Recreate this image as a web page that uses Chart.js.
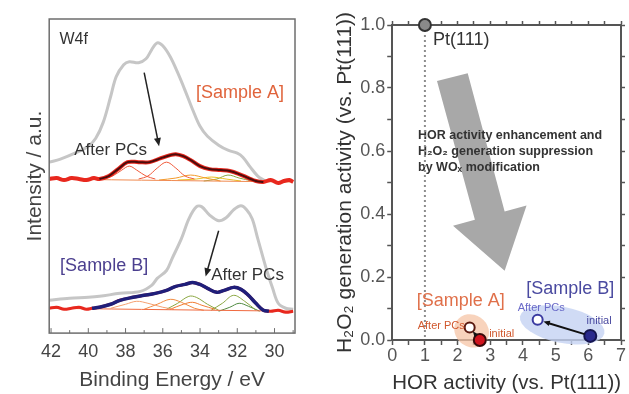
<!DOCTYPE html>
<html>
<head>
<meta charset="utf-8">
<script src="https://cdn.jsdelivr.net/npm/chart.js@4.4.1/dist/chart.umd.min.js"></script>
<style>
  html, body { margin: 0; padding: 0; background: #fff; overflow: hidden; }
  #wrap { position: relative; width: 629px; height: 394px; }
  #left { position: absolute; left: 0; top: 0; }
  #right { position: absolute; left: 318px; top: 0; }
</style>
</head>
<body>
<div id="wrap">
  <canvas id="left" width="318" height="394" style="width:318px;height:394px"></canvas>
  <canvas id="right" width="311" height="394" style="width:311px;height:394px"></canvas>
</div>
<script>
// ---------- left panel: W4f spectra, [binding energy eV, intensity a.u.] ----------
const BE_TICKS = [42, 40, 38, 36, 34, 32, 30];

// Sample A
const A_ASIS = [[42.1,172],[41.5,175],[40.6,182],[40.0,188],[39.6,196],[39.2,212],[38.8,238],[38.5,258],[38.1,270],[37.8,273],[37.3,272],[36.9,276],[36.6,285],[36.3,292],[36.0,289],[35.6,278],[35.2,262],[34.8,244],[34.4,225],[34.0,208],[33.6,198],[33.0,189],[32.5,184],[32.0,181],[31.7,177],[31.3,167],[30.9,158],[30.5,153]];
const A_DATA = [[42.1,155],[41.7,156],[41.3,154],[40.9,156],[40.5,155],[40.1,154],[39.7,156],[39.4,155],[38.9,158],[38.4,165],[37.9,172],[37.3,172],[36.7,172],[36.1,176],[35.6,179],[35.3,180],[34.9,178],[34.5,174],[34.0,168],[33.5,165],[32.9,164],[32.4,163],[31.9,160],[31.4,156],[31.0,153],[30.6,152],[30.2,154],[29.8,151],[29.5,153],[29.2,154],[29.0,152]];
const A_FIT = [[39.4,155],[38.9,158],[38.4,165],[37.9,172],[37.3,172],[36.7,172],[36.1,176],[35.6,179],[35.3,180],[34.9,178],[34.5,174],[34.0,168],[33.5,165],[32.9,164],[32.4,163],[31.9,160],[31.4,156],[31.0,153],[30.6,152]];
const A_PEAK1 = [[39.2,155],[38.7,158],[38.2,164],[37.8,168],[37.4,164],[36.9,158],[36.4,155]];
const A_PEAK2 = [[37.3,155],[36.8,158],[36.3,166],[35.8,172],[35.3,166],[34.8,158],[34.3,155]];
const A_PEAK3 = [[36.2,154],[35.3,156],[34.5,159],[33.7,156],[32.9,153]];
const A_PEAK4 = [[35.2,154],[34.2,155],[33.4,157],[32.6,155],[31.8,153]];
const A_PEAK5 = [[33.8,153],[33.1,155],[32.5,159],[31.9,156],[31.2,153]];
const A_BASE = [[42.1,155],[29.0,152]];

// Sample B
const B_ASIS = [[42.1,33],[41.0,35],[40.0,36],[39.4,37],[38.3,40],[37.2,42],[36.6,48],[36.3,55],[35.8,63],[35.5,75],[35.0,95],[34.6,115],[34.2,127],[33.9,127],[33.5,119],[33.0,113],[32.6,116],[32.2,124],[31.8,128],[31.5,124],[31.2,115],[30.9,95],[30.6,75],[30.4,62],[30.1,45],[29.8,30],[29.4,25],[29.0,24]];
const B_DATA = [[42.1,25],[41.7,26],[41.3,24],[40.9,25],[40.5,26],[40.1,24],[39.8,25],[39.4,26],[38.8,29],[38.3,33],[37.6,36],[37.0,38],[36.4,40],[35.8,43],[35.3,47],[34.8,49],[34.4,51],[34.0,49],[33.6,45],[33.1,41],[32.7,43],[32.2,46],[31.8,44],[31.4,38],[31.0,30],[30.6,23],[30.2,22],[29.8,23],[29.4,21],[29.0,22]];
const B_FIT = [[39.8,25],[39.4,26],[38.8,29],[38.3,33],[37.6,36],[37.0,38],[36.4,40],[35.8,43],[35.3,47],[34.8,49],[34.4,51],[34.0,49],[33.6,45],[33.1,41],[32.7,43],[32.2,46],[31.8,44],[31.4,38],[31.0,30],[30.6,23],[30.3,22]];
const B_PEAK1 = [[38.8,25],[38.0,29],[37.4,32],[36.8,30],[36.0,26],[35.4,24]];
const B_PEAK2 = [[37.0,24],[36.3,29],[35.6,34],[35.0,31],[34.3,25],[33.8,23]];
const B_PEAK3 = [[35.8,24],[35.2,30],[34.6,37],[34.2,36],[33.6,29],[33.0,23]];
const B_PEAK4 = [[35.6,24],[34.9,29],[34.4,31],[33.9,28],[33.2,24]];
const B_PEAK5 = [[33.4,23],[32.8,30],[32.2,38],[31.6,32],[31.0,23]];
const B_PEAK6 = [[33.0,22],[32.4,26],[31.9,30],[31.4,27],[30.8,22]];
const B_BASE = [[42.1,25],[29.0,22]];

// ---------- right panel: [HOR activity, H2O2 generation activity] ----------
const PT111 = [[1.0, 1.0]];
const A_INITIAL = [[2.68, 0.0]];
const A_AFTER = [[2.37, 0.04]];
const B_INITIAL = [[6.06, 0.013]];
const B_AFTER = [[4.45, 0.064]];
const PT_GUIDE = [[1.0, 1.0], [1.0, 0.0]];

const toXY = arr => arr.map(([x, y]) => ({ x, y }));

Chart.defaults.font.family = "'Liberation Sans', Arial, sans-serif";
Chart.defaults.color = '#4a4a4a';

function trace(data, color, width, order) {
    return {
        data: toXY(data),
        borderColor: color,
        borderWidth: width,
        pointRadius: 0,
        tension: 0.35,
        fill: false,
        order: order
    };
}

function text(ctx, str, x, y, font, color, align) {
    ctx.font = font;
    ctx.fillStyle = color;
    ctx.textAlign = align || 'center';
    ctx.textBaseline = 'middle';
    ctx.fillText(str, x, y);
}

function arrow(ctx, x1, y1, x2, y2, color, width, head) {
    const ang = Math.atan2(y2 - y1, x2 - x1);
    ctx.strokeStyle = color;
    ctx.fillStyle = color;
    ctx.lineWidth = width;
    ctx.beginPath();
    ctx.moveTo(x1, y1);
    ctx.lineTo(x2 - Math.cos(ang) * head * 0.8, y2 - Math.sin(ang) * head * 0.8);
    ctx.stroke();
    ctx.beginPath();
    ctx.moveTo(x2, y2);
    ctx.lineTo(x2 - head * Math.cos(ang - 0.4), y2 - head * Math.sin(ang - 0.4));
    ctx.lineTo(x2 - head * Math.cos(ang + 0.4), y2 - head * Math.sin(ang + 0.4));
    ctx.closePath();
    ctx.fill();
}

// Frame, labels and arrows of the spectra panel
const leftDecor = {
    id: 'leftDecor',
    afterDatasetsDraw(chart) {
        const { ctx, chartArea: a, scales: { x, y } } = chart;
        ctx.save();
        ctx.strokeStyle = '#6e6e6e';
        ctx.lineWidth = 1.5;
        ctx.strokeRect(a.left, a.top, a.right - a.left, a.bottom - a.top);
        // small inward ticks on the energy axis (every 1 eV)
        ctx.lineWidth = 1;
        BE_TICKS.forEach(v => {
            [v, v - 1].forEach((t, k) => {
                const px = x.getPixelForValue(t);
                if (px < a.left || px > a.right) return;
                ctx.beginPath();
                ctx.moveTo(px, a.bottom);
                ctx.lineTo(px, a.bottom - (k === 0 ? 5 : 3));
                ctx.stroke();
            });
        });

        text(ctx, 'W4f', x.getPixelForValue(41.55), y.getPixelForValue(295), '16px "Liberation Sans"', '#333', 'left');
        text(ctx, '[Sample A]', x.getPixelForValue(31.85), y.getPixelForValue(242), '18px "Liberation Sans"', '#e0643c');
        text(ctx, 'After PCs', x.getPixelForValue(38.8), y.getPixelForValue(184), '17px "Liberation Sans"', '#333');
        text(ctx, '[Sample B]', x.getPixelForValue(39.15), y.getPixelForValue(67), '18px "Liberation Sans"', '#4b3f8f');
        text(ctx, 'After PCs', x.getPixelForValue(31.45), y.getPixelForValue(58), '17px "Liberation Sans"', '#333');

        arrow(ctx, x.getPixelForValue(37.0), y.getPixelForValue(262), x.getPixelForValue(36.2), y.getPixelForValue(188), '#222', 1.5, 9);
        arrow(ctx, x.getPixelForValue(33.0), y.getPixelForValue(103), x.getPixelForValue(33.7), y.getPixelForValue(57), '#222', 1.5, 9);
        ctx.restore();
    }
};

new Chart(document.getElementById('left'), {
    type: 'line',
    data: {
        datasets: [
            trace(A_ASIS, '#c6c6c6', 3, 6),
            trace(A_BASE, '#f08a50', 1, 5),
            trace(A_PEAK1, '#f05a3a', 1, 5),
            trace(A_PEAK2, '#f05a3a', 1, 5),
            trace(A_PEAK3, '#f39a2a', 1, 5),
            trace(A_PEAK4, '#e8c020', 1, 5),
            trace(A_PEAK5, '#8aa640', 1, 5),
            trace(A_DATA, '#e8281e', 4, 3),
            trace(A_FIT, '#4a0c0c', 2, 1),
            trace(B_ASIS, '#c6c6c6', 3, 6),
            trace(B_BASE, '#f06a40', 1, 5),
            trace(B_PEAK1, '#f5a070', 1, 5),
            trace(B_PEAK2, '#f08a40', 1, 5),
            trace(B_PEAK3, '#8aa640', 1, 5),
            trace(B_PEAK4, '#f07a30', 1, 5),
            trace(B_PEAK5, '#8aa640', 1, 5),
            trace(B_PEAK6, '#4f8a40', 1, 5),
            trace(B_DATA, '#e8281e', 3, 3),
            trace(B_FIT, '#1f1f7a', 3.5, 1)
        ]
    },
    options: {
        responsive: false,
        animation: false,
        layout: { padding: { left: 0, right: 23, top: 19, bottom: 4 } },
        plugins: { legend: { display: false }, tooltip: { enabled: false } },
        scales: {
            x: {
                type: 'linear',
                reverse: true,
                min: 28.9,
                max: 42.1,
                afterBuildTicks: s => { s.ticks = BE_TICKS.map(v => ({ value: v })); },
                ticks: { font: { size: 18, lineHeight: 1 }, color: '#444', padding: 10 },
                grid: { display: false, drawTicks: false },
                border: { display: false },
                title: { display: true, text: 'Binding Energy / eV', font: { size: 21, lineHeight: 0.9 }, color: '#444', padding: { top: 0, bottom: 0 } }
            },
            y: {
                min: 0,
                max: 316,
                ticks: { display: false },
                grid: { display: false, drawTicks: false },
                border: { display: false },
                title: { display: true, text: 'Intensity / a.u.', font: { size: 21 }, color: '#444', padding: { top: 23, bottom: 1 } }
            }
        }
    },
    plugins: [leftDecor]
});

// Ellipses, big arrow, annotations and labels of the activity panel
const rightDecor = {
    id: 'rightDecor',
    beforeDatasetsDraw(chart) {
        const { ctx, scales: { x, y } } = chart;
        ctx.save();
        // shaded groups
        ctx.fillStyle = 'rgba(246, 196, 166, 0.75)';
        ctx.beginPath();
        ctx.ellipse(x.getPixelForValue(2.43), y.getPixelForValue(0.029), 18, 16, 0.6, 0, Math.PI * 2);
        ctx.fill();
        ctx.fillStyle = 'rgba(196, 210, 242, 0.8)';
        ctx.beginPath();
        ctx.ellipse(x.getPixelForValue(5.2), y.getPixelForValue(0.048), 43, 18, 0.2, 0, Math.PI * 2);
        ctx.fill();

        // big gray arrow
        const shape = [[1.37, 0.822], [2.31, 0.847], [3.44, 0.408], [4.11, 0.427], [3.44, 0.22], [1.86, 0.363], [2.53, 0.382]];
        ctx.fillStyle = '#a8a8a8';
        ctx.beginPath();
        shape.forEach(([vx, vy], i) => {
            const px = x.getPixelForValue(vx), py = y.getPixelForValue(vy);
            if (i === 0) ctx.moveTo(px, py); else ctx.lineTo(px, py);
        });
        ctx.closePath();
        ctx.fill();

        const f = 'bold 12.5px "Liberation Sans"';
        text(ctx, 'HOR activity enhancement and', x.getPixelForValue(0.79), y.getPixelForValue(0.65), f, '#333', 'left');
        text(ctx, 'H\u2082O\u2082 generation suppression', x.getPixelForValue(0.79), y.getPixelForValue(0.597), f, '#333', 'left');
        text(ctx, 'by WO\u2093 modification', x.getPixelForValue(0.79), y.getPixelForValue(0.548), f, '#333', 'left');
        ctx.restore();
    },
    afterDatasetsDraw(chart) {
        const { ctx, scales: { x, y } } = chart;
        ctx.save();
        const p = (pt) => [x.getPixelForValue(pt[0][0]), y.getPixelForValue(pt[0][1])];
        const [ax1, ay1] = p(A_INITIAL), [ax2, ay2] = p(A_AFTER);
        const [bx1, by1] = p(B_INITIAL), [bx2, by2] = p(B_AFTER);
        const shorten = (x1, y1, x2, y2, d1, d2) => {
            const L = Math.hypot(x2 - x1, y2 - y1);
            const ux = (x2 - x1) / L, uy = (y2 - y1) / L;
            return [x1 + ux * d1, y1 + uy * d1, x2 - ux * d2, y2 - uy * d2];
        };
        let s = shorten(ax1, ay1, ax2, ay2, 6, 5);
        arrow(ctx, s[0], s[1], s[2], s[3], '#111', 2, 6);
        s = shorten(bx1, by1, bx2, by2, 6, 6);
        arrow(ctx, s[0], s[1], s[2], s[3], '#111', 2, 7);

        text(ctx, 'Pt(111)', x.getPixelForValue(1.25), y.getPixelForValue(0.952), '18px "Liberation Sans"', '#333', 'left');
        text(ctx, '[Sample A]', x.getPixelForValue(2.1), y.getPixelForValue(0.124), '18px "Liberation Sans"', '#e0704a');
        text(ctx, '[Sample B]', x.getPixelForValue(5.45), y.getPixelForValue(0.162), '18px "Liberation Sans"', '#4a4aa0');
        text(ctx, 'After PCs', x.getPixelForValue(2.22), y.getPixelForValue(0.045), '11px "Liberation Sans"', '#d0582e', 'right');
        text(ctx, 'initial', x.getPixelForValue(3.35), y.getPixelForValue(0.019), '11px "Liberation Sans"', '#d0582e');
        text(ctx, 'After PCs', x.getPixelForValue(4.56), y.getPixelForValue(0.102), '11px "Liberation Sans"', '#6a6ac8');
        text(ctx, 'initial', x.getPixelForValue(6.33), y.getPixelForValue(0.06), '11px "Liberation Sans"', '#4a4aa0');
        ctx.restore();
    }
};

function marker(data, fill, stroke, radius, order) {
    return {
        data: toXY(data),
        showLine: false,
        pointRadius: radius,
        pointBackgroundColor: fill,
        pointBorderColor: stroke,
        pointBorderWidth: 2,
        clip: false,
        order: order
    };
}

const axisLine = { display: true, color: '#555', width: 2 };
const tickGrid = { drawOnChartArea: false, tickLength: 5, tickColor: '#555', tickWidth: 1.5 };

new Chart(document.getElementById('right'), {
    type: 'scatter',
    data: {
        datasets: [
            {
                data: toXY(PT_GUIDE),
                showLine: true,
                borderColor: '#8c8c8c',
                borderWidth: 2,
                borderDash: [2, 3],
                pointRadius: 0,
                order: 9
            },
            marker(PT111, '#8a8a8a', '#333', 6, 1),
            marker(A_INITIAL, '#d0141e', '#3a0a0a', 6, 1),
            marker(A_AFTER, '#ffffff', '#5a1a10', 5, 1),
            marker(B_INITIAL, '#2a2a8c', '#151550', 6, 1),
            marker(B_AFTER, '#ffffff', '#3a3aa0', 5, 1)
        ]
    },
    options: {
        responsive: false,
        animation: false,
        layout: { padding: { left: 0, right: 3, top: 21, bottom: 0 } },
        plugins: { legend: { display: false }, tooltip: { enabled: false } },
        scales: {
            x: {
                min: 0,
                max: 7,
                ticks: { stepSize: 0.5, font: { size: 18, lineHeight: 1 }, color: '#555', padding: 2, autoSkip: false, maxRotation: 0,
                         callback: v => Number.isInteger(v) ? String(v) : '' },
                grid: tickGrid,
                border: axisLine,
                title: { display: true, text: 'HOR activity (vs. Pt(111))', font: { size: 21, lineHeight: 1 }, color: '#333', padding: { top: 6, bottom: 0 } }
            },
            y: {
                min: 0,
                max: 1,
                ticks: { stepSize: 0.1, font: { size: 18 }, color: '#555', padding: 2, autoSkip: false,
                         callback: v => (Math.round(v * 10) % 2 === 0) ? v.toFixed(1) : '' },
                grid: tickGrid,
                border: axisLine,
                title: { display: true, text: 'H\u2082O\u2082 generation activity (vs. Pt(111))', font: { size: 21 }, color: '#333', padding: { top: 15, bottom: 0 } }
            },
            x2: {
                type: 'linear',
                position: 'top',
                min: 0,
                max: 7,
                ticks: { display: false, stepSize: 0.5 },
                grid: { drawOnChartArea: false, tickLength: 4, tickColor: '#555', tickWidth: 1.5 },
                border: axisLine
            },
            y2: {
                type: 'linear',
                position: 'right',
                min: 0,
                max: 1,
                ticks: { display: false, stepSize: 0.1 },
                grid: { drawOnChartArea: false, tickLength: 4, tickColor: '#555', tickWidth: 1.5 },
                border: axisLine
            }
        }
    },
    plugins: [rightDecor]
});
</script>
</body>
</html>
